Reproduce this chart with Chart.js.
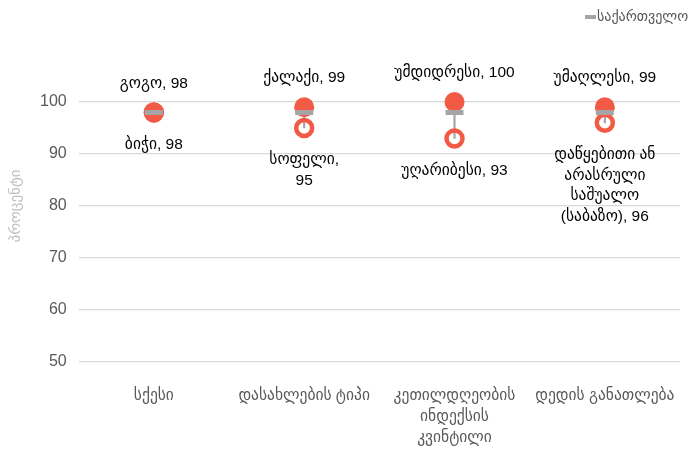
<!DOCTYPE html>
<html>
<head>
<meta charset="utf-8">
<script src="https://cdn.jsdelivr.net/npm/chart.js@4"></script>
<style>
html,body{margin:0;padding:0;background:#fff;}
#wrap{width:694px;height:453px;}
</style>
</head>
<body>
<div id="wrap"><canvas id="c" width="694" height="453"></canvas></div>
<script>
const categories = [
  "სქესი",
  "დასახლების ტიპი",
  ["კეთილდღეობის", "ინდექსის", "კვინტილი"],
  "დედის განათლება"
];
const nationalLabel = "საქართველო";
const nationalValues = [98, 98, 98, 98];
const highNames = ["გოგო", "ქალაქი", "უმდიდრესი", "უმაღლესი"];
const highValues = [98, 99, 100, 99];
const lowNames = [["ბიჭი"], ["სოფელი"], ["უღარიბესი"], ["დაწყებითი ან", "არასრული", "საშუალო", "(საბაზო)"]];
const lowValues = [98, 95, 93, 96];
const lowWrapValue = [false, true, false, false];
const yTicks = [50, 60, 70, 80, 90, 100];
const yTitle = "პროცენტი";

const FONT = "'Liberation Sans', 'DejaVu Sans', sans-serif";
const RED = "#F25A45";
const GRAY = "#A5A5A5";

const labelPlugin = {
  id: 'pointLabels',
  afterDatasetsDraw(chart) {
    const ctx = chart.ctx;
    ctx.save();
    ctx.fillStyle = '#000';
    ctx.font = "15.5px " + FONT;
    ctx.textAlign = 'center';
    ctx.textBaseline = 'middle';
    const hi = chart.getDatasetMeta(2);
    hi.data.forEach((el, i) => {
      ctx.fillText(highNames[i] + ", " + highValues[i], el.x, el.y - 29);
    });
    const lo = chart.getDatasetMeta(3);
    lo.data.forEach((el, i) => {
      const lines = lowNames[i].slice();
      if (lowWrapValue[i]) {
        lines[lines.length - 1] += ",";
        lines.push(String(lowValues[i]));
      } else {
        lines[lines.length - 1] += ", " + lowValues[i];
      }
      lines.forEach((t, k) => {
        ctx.fillText(t, el.x, el.y + 32 + k * 20.5);
      });
    });
    // legend
    const ds = chart.data.datasets[1];
    ctx.font = "14px " + FONT;
    ctx.textAlign = 'left';
    ctx.fillStyle = '#595959';
    ctx.strokeStyle = GRAY;
    ctx.lineWidth = 4;
    ctx.beginPath();
    ctx.moveTo(585, 17);
    ctx.lineTo(596, 17);
    ctx.stroke();
    ctx.fillText(ds.label, 597, 17);
    ctx.restore();
  }
};

new Chart(document.getElementById('c'), {
  data: {
    labels: categories,
    datasets: [
      {
        type: 'bar',
        label: 'range',
        data: lowValues.map((v, i) => [v, highValues[i]]),
        backgroundColor: GRAY,
        barThickness: 1.5,
        order: 10
      },
      {
        type: 'line',
        label: nationalLabel,
        data: nationalValues,
        showLine: false,
        pointStyle: 'line',
        pointRadius: 9,
        pointBorderWidth: 5,
        pointBorderColor: GRAY,
        pointBackgroundColor: GRAY,
        borderColor: GRAY,
        backgroundColor: GRAY,
        order: 0
      },
      {
        type: 'line',
        label: 'high',
        data: highValues,
        showLine: false,
        pointStyle: 'circle',
        pointRadius: 10,
        pointBorderWidth: 0,
        pointBackgroundColor: RED,
        pointBorderColor: RED,
        order: 2
      },
      {
        type: 'line',
        label: 'low',
        data: lowValues,
        showLine: false,
        pointStyle: 'circle',
        pointRadius: 8,
        pointBorderWidth: 4.5,
        pointBackgroundColor: 'rgba(0,0,0,0)',
        pointBorderColor: RED,
        order: 1
      }
    ]
  },
  options: {
    responsive: false,
    animation: false,
    events: [],
    layout: { padding: { top: 50, right: 8, left: 7, bottom: 6 } },
    plugins: {
      tooltip: { enabled: false },
      legend: { display: false }
    },
    scales: {
      x: {
        offset: true,
        grid: { display: false },
        border: { display: false },
        afterFit: (axis) => { axis.height = 85; },
        ticks: {
          color: '#595959',
          font: { family: FONT, size: 15.5, lineHeight: 1.35 },
          padding: 15,
          maxRotation: 0,
          autoSkip: false
        }
      },
      y: {
        min: 50,
        max: 110,
        afterBuildTicks: (axis) => { axis.ticks = yTicks.map(v => ({ value: v })); },
        grid: { color: '#D9D9D9', lineWidth: 1.3, drawTicks: false },
        border: { display: false },
        ticks: {
          color: '#595959',
          font: { family: FONT, size: 16 },
          padding: 12
        },
        title: {
          display: true,
          text: yTitle,
          color: '#BFBFBF',
          font: { family: FONT, size: 15 },
          padding: { top: 0, bottom: 3 }
        }
      }
    }
  },
  plugins: [labelPlugin]
});
</script>
</body>
</html>
